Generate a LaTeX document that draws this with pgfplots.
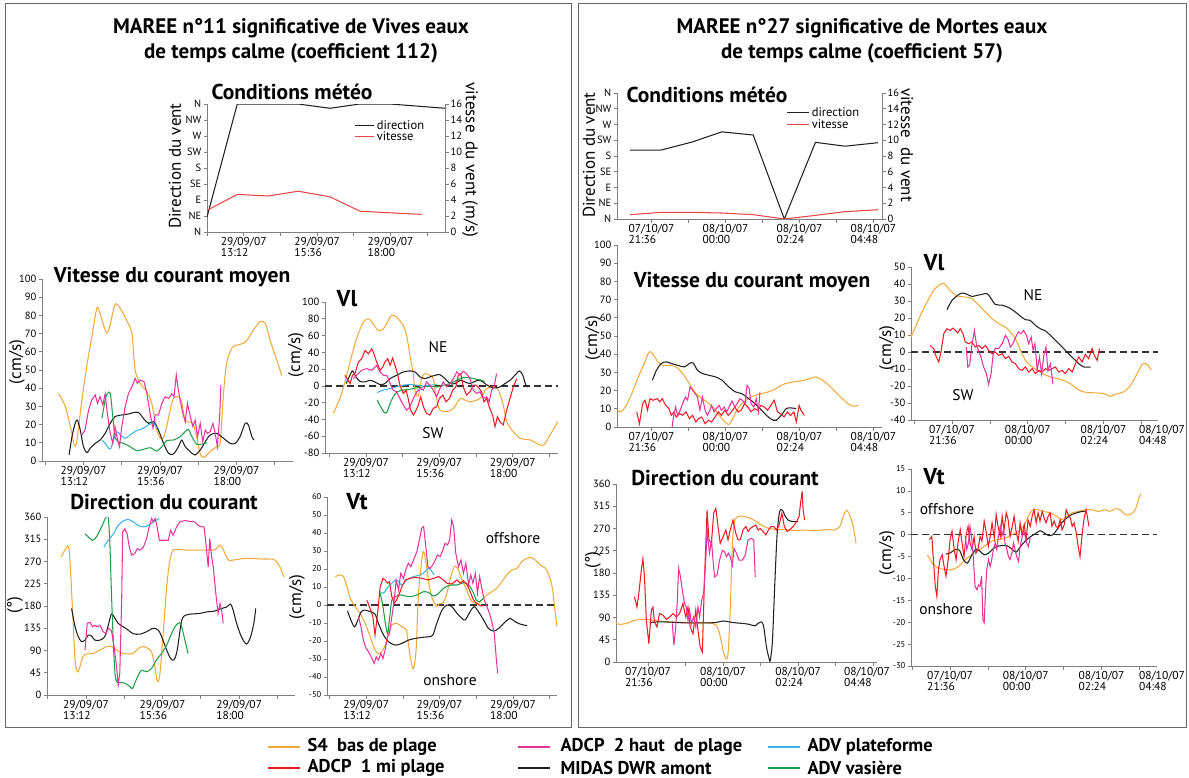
\documentclass[border=0pt]{standalone}
\usepackage{fontspec}
\setmainfont{PT Sans}
\usepackage{pgfplots}
\pgfplotsset{compat=1.18}
\definecolor{cS}{HTML}{F2A93B}
\definecolor{cA}{HTML}{EE1C25}
\definecolor{cB}{HTML}{E6359A}
\definecolor{cM}{HTML}{231F20}
\definecolor{cC}{HTML}{3AB4E6}
\definecolor{cG}{HTML}{1E9E48}
\definecolor{cW}{HTML}{E84545}
\pgfplotsset{
  base/.style={scale only axis, anchor=south west,
    axis x line*=bottom, axis y line*=left,
    axis line style={black!50, line width=0.7pt},
    tick style={black!50, line width=0.7pt},
    tick align=outside, major tick length=3.5pt,
    /pgf/number format/assume math mode=true,
    every axis plot/.append style={line width=1.05pt, no marks},
    yticklabel style={font=\fontsize{10.5}{11}\selectfont, inner sep=2pt},
    xticklabel style={font=\fontsize{11.5}{11}\selectfont, align=left, inner sep=2pt},
  },
  lft/.style={base, xtick={12,13.2,14.4,15.6,16.8,18,19.2},
    xticklabels={,{29/09/07\\13:12},,{29/09/07\\15:36},,{29/09/07\\18:00},}},
  rgt/.style={base, xtick={20.4,21.6,22.8,24,25.2,26.4,27.6,28.8},
    xticklabels={,{07/10/07\\21:36},,{08/10/07\\00:00},,{08/10/07\\02:24},,{08/10/07\\04:48}}},
  small ticks/.style={yticklabel style={font=\fontsize{8.5}{9}\selectfont}},
  zero/.style={dash pattern=on 7pt off 4pt, line width=1.4pt, black!80},
}
\tikzset{
  ttl/.style={font=\bfseries\fontsize{21}{21}\selectfont},
  sub/.style={font=\bfseries\fontsize{21.5}{21.5}\selectfont},
  vv/.style={font=\bfseries\fontsize{23}{23}\selectfont},
  ylab/.style={font=\fontsize{17}{17}\selectfont, rotate=90},
  ann/.style={font=\fontsize{15.5}{15.5}\selectfont},
  leg/.style={font=\bfseries\fontsize{18.5}{18.5}\selectfont, anchor=west},
  xl/.style={font=\fontsize{11.5}{11}\selectfont, align=left, anchor=north, inner sep=2pt},
}
\begin{document}
\begin{tikzpicture}
\useasboundingbox (0pt,0pt) rectangle (1189pt,-778pt);
\draw[black!60, line width=0.8pt] (5pt,-3pt) rectangle (571pt,-727pt);
\draw[black!60, line width=0.8pt] (578pt,-3pt) rectangle (1186pt,-727pt);

% ---------------- titles ----------------
\node[ttl] at (291pt,-28pt) {MAREE n°11 significative de Vives eaux};
\node[ttl] at (291pt,-53pt) {de temps calme (coefficient 112)};
\node[ttl] at (862pt,-28pt) {MAREE n°27 significative de Mortes eaux};
\node[ttl] at (862pt,-53pt) {de temps calme (coefficient 57)};

% =============== LEFT: weather ===============
\begin{axis}[lft, at={(207pt,-232pt)}, width=238pt, height=128pt,
  xmin=12, xmax=19.78, ymin=0, ymax=360, ytick={0,45,...,360},
  yticklabels={N,NE,E,SE,S,SW,W,NW,N}]
\addplot[cM] coordinates {(12.0,42) (12.99,360) (14.0,360) (14.98,360) (16.02,348) (17.0,360) (17.98,360) (19.78,348)};
\end{axis}
\begin{axis}[base, at={(207pt,-232pt)}, width=238pt, height=128pt,
  axis y line*=right, axis x line=none, xmin=12, xmax=19.78, ymin=0, ymax=16, ytick={0,2,...,16},
  legend style={at={(rel axis cs:0.62,0.89)}, anchor=north west, draw=none, fill=none,
    font=\fontsize{12.5}{12.5}\selectfont, row sep=-3pt, inner sep=0pt},
  legend cell align=left,
  legend image code/.code={\draw[#1] (0pt,0pt) -- (19pt,0pt);}]
\addlegendimage{cM, line width=1pt}\addlegendentry{direction}
\addplot[cW] coordinates {(12.0,2.7) (12.99,4.7) (14.0,4.5) (14.98,5.1) (16.02,4.4) (17.0,2.6) (17.98,2.4) (19.02,2.2)};
\addlegendentry{vitesse}
\end{axis}
\node[sub] at (292pt,-92pt) {Conditions météo};
\node[ylab] at (175pt,-166pt) {Direction du vent};
\node[ylab, rotate=180] at (470pt,-160pt) {vitesse\ \ du vent (m/s)};

% =============== LEFT: speed ===============
\begin{axis}[lft, at={(42pt,-461pt)}, width=251pt, height=182pt,
  xmin=11.9, xmax=19.77, ymin=0, ymax=100, ytick={0,10,...,100}]
\addplot[cS, smooth] coordinates {(12.42,37)(12.63,30)(12.84,15)(12.91,8.8)(12.99,10.6)(13.15,33.5)(13.33,55)(13.46,68)(13.62,84)(13.72,81)(13.88,72)(13.95,70.5)(14.04,75)(14.19,86)(14.35,84)(14.56,77)(14.72,70)(14.82,50)(14.98,42.7)(15.19,38)(15.34,31.7)(15.50,17)(15.61,12.5)(15.71,13)(15.81,19)(15.92,28)(16.02,34.4)(16.18,35.3)(16.28,32.6)(16.39,22.5)(16.60,21)(16.70,17)(16.86,4.2)(16.96,2)(17.07,3.3)(17.22,6)(17.38,7.9)(17.49,10.6)(17.59,37)(17.69,53.7)(17.85,62)(18.01,63.7)(18.22,64.7)(18.37,67.4)(18.53,72)(18.74,76.5)(18.90,75.6)(19.05,66.5)(19.26,55.5)(19.42,47)};
\addplot[cM, smooth] coordinates {(12.75,3.3)(12.84,13.4)(12.94,20.7)(13.01,22.5)(13.10,17)(13.20,7.9)(13.31,4.6)(13.41,7)(13.57,9.7)(13.72,11.5)(13.88,15.2)(14.04,20.7)(14.19,24.4)(14.40,25.3)(14.61,25.8)(14.77,26.6)(14.93,26.6)(15.08,23.4)(15.24,20.7)(15.40,21.6)(15.55,17)(15.71,9.7)(15.87,4.2)(16.02,3.8)(16.18,7.9)(16.28,11.5)(16.39,7.9)(16.55,5.1)(16.70,3.3)(16.86,6)(17.02,10.6)(17.17,14.3)(17.38,15.2)(17.59,12.5)(17.80,9.7)(17.96,9.7)(18.11,13.4)(18.27,20.7)(18.37,19.8)(18.48,13.4)(18.55,11.5)};
\addplot[cG, smooth] coordinates {(13.78,23.4)(13.88,33.5)(13.95,37)(14.04,37)(14.12,24.4)(14.19,13.4)(14.30,10.6)(14.46,9.7)(14.66,7.9)(14.87,5.7)(15.08,6.4)(15.29,7.3)(15.50,5.5)(15.66,7.9)(15.81,11.2)(16.02,11.5)(16.23,13.4)(16.39,16.1)(16.49,17.4)(16.60,13.4)(16.75,9.2)(16.91,9.3)(17.07,10)};
\addplot[cC, smooth] coordinates {(13.78,11.5)(13.88,9.7)(13.99,7)(14.06,7)(14.14,11.5)(14.25,16.1)(14.35,14.3)(14.51,12.5)(14.66,14.3)(14.87,16.7)(15.08,18)(15.24,19.8)(15.40,20.7)(15.50,18)};
\addplot[cB] coordinates {(13.15,14.3)(13.25,17)(13.36,28)(13.46,33.5)(13.57,36.3)(13.64,31.7)(13.72,35.3)(13.81,30.8)(13.88,37)(13.95,26)(14.04,15.2)(14.12,9.7)(14.19,18.9)(14.27,11.5)(14.33,7.9)(14.40,18.9)(14.51,29.9)(14.61,37)(14.72,40.8)(14.82,45.4)(14.89,42.7)(14.98,44.5)(15.10,43.6)(15.19,37)(15.29,26)(15.38,18)(15.45,25.3)(15.55,25.3)(15.66,31.7)(15.76,35.3)(15.87,34.4)(15.97,37)(16.04,35.3)(16.11,47.3)(16.16,40.8)(16.23,33.5)(16.32,26)(16.39,21.6)(16.46,31.7)(16.55,24.4)(16.63,18.9)(16.70,22.5)(16.78,13.4)(16.86,20.7)(16.94,10.6)(17.02,17)(17.09,15.2)(17.17,16.1)(17.26,20.7)(17.33,15.2)(17.40,7.9)(17.47,24.4)(17.51,41.8)};
\end{axis}
\node[sub] at (172pt,-277pt) {Vitesse du courant moyen};
\node[ylab] at (17pt,-362pt) {(cm/s)};

% =============== LEFT: Vl ===============
\begin{axis}[lft, at={(325pt,-453pt)}, width=233pt, height=151pt,
  xmin=11.86, xmax=19.48, ymin=-80, ymax=100, ytick={-80,-60,...,100}]
\addplot[zero] coordinates {(11.86,0) (19.48,0)};
\addplot[cS, smooth] coordinates {(12.13,-32.8)(12.35,-15)(12.51,4.7)(12.68,28.5)(12.89,56)(13.11,76)(13.28,80)(13.44,74)(13.60,66)(13.77,68)(13.93,78)(14.04,84)(14.20,82)(14.42,72)(14.53,60)(14.64,36.4)(14.75,12.6)(14.80,-5)(14.91,-12)(15.02,8.7)(15.13,14.6)(15.29,12.6)(15.40,8.7)(15.51,-15)(15.62,-28.9)(15.84,-30.8)(16.06,-26.9)(16.28,-15)(16.44,-17)(16.60,-19)(16.82,-17)(16.98,-13)(17.15,-3)(17.37,-1.2)(17.53,-5)(17.69,-23)(17.80,-42.7)(17.97,-52.6)(18.24,-62.5)(18.57,-64.4)(18.78,-68.4)(18.95,-71)(19.06,-68.4)(19.22,-58.5)(19.38,-48.6)(19.48,-42.7)};
\addplot[cM, smooth] coordinates {(12.55,2.8)(12.65,10.7)(12.76,17.8)(12.87,10.7)(13.00,5.5)(13.17,4.7)(13.33,6.7)(13.49,4.7)(13.66,1.6)(13.82,2.8)(13.99,8.7)(14.20,12.6)(14.42,16.6)(14.64,17.8)(14.80,16.6)(14.97,10.7)(15.13,8.7)(15.29,10.7)(15.46,12.6)(15.62,13.4)(15.78,8.7)(15.95,2.8)(16.11,2.8)(16.28,6.7)(16.44,4.7)(16.60,2.8)(16.77,5.5)(16.93,6.7)(17.09,2.8)(17.26,-1.2)(17.42,-2.4)(17.58,-1.2)(17.75,2.8)(17.91,6.7)(18.07,12.6)(18.22,17.8)(18.33,12.6)(18.43,0.8)(18.51,-1.2)};
\addplot[cG, smooth] coordinates {(13.57,-17)(13.68,-24.9)(13.80,-31.6)(13.88,-31.6)(13.99,-21)(14.09,-13)(14.23,-7)(14.42,-5)(14.64,-4)(14.86,-2.4)(15.08,-1.2)(15.29,-0.4)(15.51,-1.2)(15.73,0.8)(15.95,2.8)(16.17,6.7)(16.38,9.9)(16.60,9.5)(16.82,7.9)(16.98,6.7)(17.09,4.7)};
\addplot[cC, smooth] coordinates {(13.57,-7.9)(13.77,-5)(13.99,-3.2)(14.20,-1.2)(14.42,0.8)(14.64,1.6)(14.86,0.8)(15.08,0)(15.29,0.8)(15.51,1.6)};
\addplot[cA] coordinates {(12.51,12.6)(12.59,7.9)(12.68,2.8)(12.76,12.6)(12.84,14.6)(12.95,28.5)(13.06,32.4)(13.17,42.3)(13.28,38.3)(13.39,44.3)(13.46,38.3)(13.55,28.5)(13.66,18.6)(13.75,22.5)(13.82,28.5)(13.91,32.4)(13.99,24.5)(14.07,33.2)(14.15,24.5)(14.23,14.6)(14.31,0.8)(14.42,-9)(14.51,-5)(14.58,-15)(14.66,-28.9)(14.75,-34.8)(14.84,-28.9)(14.91,-22.9)(14.99,-13)(15.08,-24.9)(15.18,-32.8)(15.29,-34.8)(15.40,-26.9)(15.51,-24.9)(15.60,-15)(15.71,-11)(15.82,-19)(15.93,-15)(16.04,-5)(16.14,-1.2)(16.22,12.6)(16.30,14.6)(16.38,-1.2)(16.49,-11)(16.60,-7)(16.71,0.8)(16.80,0.8)(16.87,-1.2)(16.98,-7)(17.06,-19)(17.15,-15)(17.23,-24.9)(17.34,-34.8)(17.42,-48.6)(17.50,-36.8)(17.58,-42.7)(17.69,-46.6)(17.80,-28.9)(17.91,-15)(18.02,-1.2)(18.13,8.7)};
\addplot[cB] coordinates {(12.79,8.7)(12.89,12.6)(13.06,18.6)(13.22,20.6)(13.39,18.6)(13.55,24.5)(13.66,16.6)(13.77,12.6)(13.88,12.6)(13.99,2.8)(14.09,-5)(14.20,-7)(14.31,-15)(14.42,-22.9)(14.53,-28.9)(14.64,-24.9)(14.75,-15)(14.86,-7)(14.97,-3.2)(15.08,-5)(15.18,4.7)(15.29,0.8)(15.40,-5)(15.51,-13)(15.62,-3)(15.73,4.7)(15.84,-1.2)(15.95,2.8)(16.06,8.7)(16.17,16.6)(16.28,12.6)(16.38,17.4)(16.49,14.6)(16.60,8.7)(16.71,-5)(16.82,-9)(16.93,-7)(17.04,-15)(17.15,-13)(17.23,-19)(17.31,-5)(17.39,-1.2)(17.47,14.6)};
\end{axis}
\node[vv] at (347pt,-299pt) {Vl};
\node[ann] at (438pt,-347pt) {NE};
\node[ann] at (433pt,-433pt) {SW};
\node[ylab] at (296pt,-355pt) {(cm/s)};

% =============== LEFT: direction ===============
\begin{axis}[lft, at={(47pt,-695pt)}, width=248pt, height=178pt,
  xmin=11.98, xmax=19.75, ymin=0, ymax=360, ytick={0,45,...,360}]
\addplot[cS, smooth] coordinates {(12.42,279)(12.54,293)(12.65,301)(12.70,272)(12.78,172)(12.86,71)(12.93,47)(12.99,52)(13.10,77)(13.22,83)(13.43,84)(13.64,91)(13.85,98)(14.00,98)(14.16,91)(14.32,85)(14.53,83)(14.68,84)(14.84,94)(15.00,98)(15.15,94)(15.26,87)(15.36,57)(15.44,27)(15.52,44)(15.62,124)(15.73,219)(15.83,273)(15.93,293)(16.09,294)(16.35,293)(16.67,293)(16.98,293)(17.24,294)(17.40,303)(17.50,294)(17.66,273)(17.81,273)(18.13,276)(18.44,276)(18.75,275)(18.96,275)(19.12,273)(19.28,259)(19.40,239)};
\addplot[cM, smooth] coordinates {(12.75,175)(12.86,138)(12.96,118)(13.06,108)(13.17,111)(13.27,121)(13.38,119)(13.48,111)(13.64,111)(13.79,118)(13.90,141)(14.00,164)(14.11,155)(14.21,145)(14.37,138)(14.53,131)(14.68,124)(14.89,123)(15.10,128)(15.31,135)(15.47,131)(15.57,118)(15.73,91)(15.85,74)(15.96,71)(16.06,91)(16.20,151)(16.35,162)(16.56,164)(16.77,165)(16.98,168)(17.24,170)(17.45,175)(17.61,178)(17.73,184)(17.81,172)(17.92,145)(18.07,118)(18.23,103)(18.36,118)(18.46,145)(18.52,175)};
\addplot[cG, smooth] coordinates {(13.17,326)(13.27,320)(13.41,313)(13.53,320)(13.69,340)(13.83,360)(13.90,357)(13.95,306)(14.00,205)(14.06,104)(14.11,44)(14.16,27)(14.26,25)(14.42,24)(14.58,17)(14.66,13)(14.73,24)(14.84,40)(14.94,50)(15.10,47)(15.26,54)(15.41,71)(15.57,84)(15.73,101)(15.88,124)(16.02,141)(16.14,146)(16.20,138)(16.30,111)(16.40,84)};
\addplot[cC, smooth] coordinates {(13.76,299)(13.90,313)(14.06,326)(14.21,343)(14.37,352)(14.53,355)(14.68,350)(14.84,343)(15.00,340)(15.15,343)(15.31,350)(15.50,357)};
\addplot[cB] coordinates {(13.17,91)(13.24,145)(13.33,147)(13.41,138)(13.48,141)(13.55,138)(13.64,141)(13.74,128)(13.83,124)(13.90,135)(14.00,130)(14.08,98)(14.16,57)(14.21,20)(14.26,44)(14.32,192)(14.35,330)(14.42,336)(14.49,326)(14.56,299)(14.63,283)(14.73,286)(14.81,296)(14.89,293)(15.00,299)(15.10,316)(15.18,340)(15.26,357)(15.31,350)(15.37,357)(15.43,340)(15.50,313)(15.62,313)(15.78,313)(15.85,333)(15.93,323)(16.04,340)(16.14,350)(16.30,353)(16.46,351)(16.61,350)(16.72,343)(16.82,340)(16.90,340)(16.96,306)(17.03,259)(17.08,316)(17.14,279)(17.19,259)(17.27,205)(17.34,165)(17.40,185)(17.45,172)(17.50,145)};
\end{axis}
\node[sub] at (164pt,-502pt) {Direction du courant};
\node[ylab] at (15pt,-605pt) {(°)};

% =============== LEFT: Vt ===============
\begin{axis}[lft, small ticks, at={(327pt,-695pt)}, width=230pt, height=198pt,
  xmin=11.92, xmax=19.44, ymin=-50, ymax=60, ytick={-50,-40,...,60}]
\addplot[zero] coordinates {(11.92,0) (19.44,0)};
\addplot[cS, smooth] coordinates {(12.19,15.8)(12.35,16.7)(12.46,15.8)(12.57,10.2)(12.68,3.7)(12.84,-0.9)(13.00,-4.6)(13.17,-10.2)(13.33,-17.6)(13.49,-25)(13.60,-26.9)(13.71,-26)(13.82,-22.3)(13.93,-15.8)(14.04,-11.1)(14.20,-10.2)(14.37,-12.1)(14.51,-13.9)(14.58,-21.3)(14.66,-30.6)(14.75,-35.3)(14.84,-23.2)(14.91,6.5)(15.02,25)(15.08,29.7)(15.16,23.2)(15.27,10.2)(15.38,2.8)(15.51,-0.9)(15.60,0.9)(15.71,0.9)(15.84,6.5)(16.00,17.6)(16.11,21.7)(16.22,19.5)(16.33,13.9)(16.44,10.2)(16.55,5.6)(16.66,1.9)(16.77,0.9)(16.87,0.6)(16.98,2.8)(17.15,5.6)(17.31,7.4)(17.47,9.3)(17.64,13)(17.80,16.7)(17.97,19.5)(18.13,20.4)(18.29,24.1)(18.46,26)(18.57,26.5)(18.73,25)(18.89,22.3)(19.06,20.4)(19.17,16.7)(19.28,10.2)(19.36,-0.9)(19.44,-12.1)};
\addplot[cM, smooth] coordinates {(12.59,-3.2)(12.70,-8.3)(12.82,-12.1)(12.93,-8.3)(13.04,-3.7)(13.17,-2.8)(13.33,-3.7)(13.49,-5)(13.60,-10.2)(13.77,-16.7)(13.93,-20.4)(14.15,-22.3)(14.37,-21.3)(14.58,-19.5)(14.80,-18.6)(15.02,-18)(15.24,-17.6)(15.38,-16.7)(15.51,-10.2)(15.68,-2.8)(15.84,0)(16.00,-0.9)(16.17,-4.6)(16.33,-7.4)(16.44,-8.3)(16.60,-3.7)(16.73,-0.9)(16.87,-3.7)(17.04,-8.3)(17.20,-13)(17.37,-14.5)(17.53,-13)(17.75,-9.3)(17.91,-7.4)(18.07,-9.3)(18.24,-10.6)(18.46,-11.5)};
\addplot[cG, smooth] coordinates {(13.66,6.5)(13.75,-0.9)(13.82,-9.3)(13.90,-15.8)(13.96,-8.3)(14.04,2.8)(14.15,4.6)(14.31,5.6)(14.48,5)(14.64,4.6)(14.86,5.6)(15.08,7.4)(15.24,6.9)(15.40,5)(15.57,6.5)(15.73,9.3)(15.95,11.1)(16.17,11.1)(16.38,12.4)(16.55,11.1)(16.69,7.4)(16.80,2.8)(16.91,1.9)(17.02,3.7)};
\addplot[cC, smooth] coordinates {(13.66,7.4)(13.77,6.5)(13.88,9.3)(14.04,12.1)(14.20,13.9)(14.37,11.1)(14.53,13.9)(14.75,15.8)(14.97,16.7)(15.13,18.6)(15.24,20.4)(15.35,18.6)(15.42,16.7)};
\addplot[cA] coordinates {(13.22,2.8)(13.33,-1.9)(13.42,-6.5)(13.49,-16.7)(13.55,-8.3)(13.60,0)(13.66,10.2)(13.75,14.8)(13.82,13.9)(13.90,12.1)(13.96,13)(14.04,4.6)(14.12,0.9)(14.20,2.8)(14.29,6.5)(14.37,10.2)(14.48,13.9)(14.64,14.8)(14.80,15.4)(15.02,14.8)(15.24,13.9)(15.40,14.8)(15.57,15.8)(15.73,13.9)(15.84,12.1)(16.00,11.7)(16.17,13.9)(16.28,12.1)(16.38,13.5)(16.49,11.7)(16.60,7.4)(16.71,2.8)(16.82,0.9)(16.93,-0.4)(17.04,-0.4)};
\addplot[cB] coordinates {(12.95,-6.5)(13.03,-12.1)(13.11,-19.5)(13.20,-24.1)(13.28,-26)(13.39,-29.7)(13.46,-32.5)(13.53,-28.8)(13.60,-30.6)(13.68,-26.9)(13.75,-29.7)(13.82,-25)(13.90,-17.6)(13.96,-15.8)(14.04,-6.5)(14.12,2.8)(14.18,13.9)(14.26,8.3)(14.33,17.6)(14.42,14.8)(14.51,20.4)(14.58,23.2)(14.66,21.3)(14.75,25)(14.86,29.7)(14.94,36.2)(15.02,42.7)(15.08,43.6)(15.15,32.5)(15.22,21.3)(15.29,20.4)(15.38,22.3)(15.46,25)(15.53,27.8)(15.62,26.9)(15.71,30.6)(15.78,34.3)(15.86,33.4)(15.93,36.2)(16.00,47.3)(16.06,43.6)(16.13,28.8)(16.22,21.3)(16.30,25)(16.38,17.6)(16.46,23.2)(16.55,11.1)(16.62,16.7)(16.69,12.1)(16.77,17.6)(16.84,6.5)(16.91,15.8)(16.98,9.3)(17.06,2.8)(17.15,-0.9)(17.23,-4.6)(17.31,-9.3)(17.39,-15.8)(17.45,-28.8)(17.50,-38)};
\end{axis}
\node[vv] at (357pt,-502pt) {Vt};
\node[ann] at (513pt,-538pt) {offshore};
\node[ann] at (450pt,-680pt) {onshore};
\node[ylab] at (297pt,-597pt) {(cm/s)};

% =============== RIGHT: weather ===============
\begin{axis}[rgt, at={(617pt,-219pt)}, width=265pt, height=126pt,
  xmin=20.48, xmax=29.08, ymin=0, ymax=360, ytick={0,45,...,360},
  yticklabels={N,NE,E,SE,S,SW,W,NW,N}]
\addplot[cM] coordinates {(20.9,197) (21.91,197) (22.92,220) (23.88,249) (24.9,240) (25.91,0) (26.92,219) (27.88,208) (28.95,218)};
\end{axis}
\begin{axis}[base, at={(617pt,-219pt)}, width=265pt, height=126pt,
  axis y line*=right, axis x line=none, xmin=20.48, xmax=29.08, ymin=0, ymax=16, ytick={0,2,...,16},
  legend style={at={(rel axis cs:0.64,0.90)}, anchor=north west, draw=none, fill=none,
    font=\fontsize{12.5}{12.5}\selectfont, row sep=-3pt, inner sep=0pt},
  legend cell align=left,
  legend image code/.code={\draw[#1] (0pt,0pt) -- (22pt,0pt);}]
\addlegendimage{cM, line width=1pt}\addlegendentry{direction}
\addplot[cW] coordinates {(20.9,0.55) (21.91,0.84) (22.92,0.84) (23.88,0.76) (24.9,0.55) (25.91,0) (26.92,0.46) (27.88,0.93) (28.95,1.18)};
\addlegendentry{vitesse}
\end{axis}
\node[sub] at (707pt,-95pt) {Conditions météo};
\node[ylab] at (589pt,-155pt) {Direction du vent};
\node[ylab, rotate=180] at (907pt,-145pt) {vitesse\ \ du vent};

% =============== RIGHT: speed ===============
\begin{axis}[rgt, at={(617pt,-427pt)}, width=265pt, height=182pt,
  xmin=20.48, xmax=29.08, ymin=0, ymax=100, ytick={0,10,...,100}]
\addplot[cS, smooth] coordinates {(20.50,9.2)(20.59,8.3)(20.75,11)(20.96,18.3)(21.17,27.5)(21.39,35.8)(21.49,40.4)(21.58,41.3)(21.67,39.4)(21.81,35.8)(21.97,33.9)(22.19,33.9)(22.40,33)(22.61,29.4)(22.83,23.9)(23.04,18.3)(23.25,15.6)(23.47,12.8)(23.68,9.2)(23.84,5.5)(23.98,2.8)(24.11,1.3)(24.21,3.7)(24.37,9.2)(24.53,12.8)(24.75,15.6)(24.96,17.4)(25.17,18.3)(25.39,19.3)(25.60,20.6)(25.81,22.9)(26.03,24.2)(26.24,24.8)(26.45,25.3)(26.67,26.2)(26.93,27.5)(27.15,25.7)(27.36,22.9)(27.57,19.3)(27.79,15.6)(28.00,12.5)(28.16,11.4)(28.32,11.9)};
\addplot[cM, smooth] coordinates {(21.63,25.7)(21.76,31.2)(21.92,34.9)(22.08,35.8)(22.24,34.9)(22.45,33.9)(22.67,33)(22.83,34.9)(22.95,35.2)(23.09,31.2)(23.25,29.4)(23.47,28.4)(23.68,27.5)(23.89,25.7)(24.11,22)(24.32,19.3)(24.53,18.3)(24.75,15.6)(24.96,12.8)(25.17,9.2)(25.39,5.5)(25.55,3.7)(25.65,3.7)(25.81,6.4)(25.97,10.1)(26.13,10.5)(26.29,10.1)};
\addplot[cA] coordinates {(21.12,8.3)(21.21,1.8)(21.31,12.8)(21.39,14.7)(21.47,9.2)(21.55,15.6)(21.65,14.7)(21.78,15.6)(21.87,13.8)(21.95,15.6)(22.06,11.9)(22.17,10.1)(22.24,6.4)(22.33,8.3)(22.40,5.5)(22.51,7.3)(22.61,6.4)(22.72,8.3)(22.83,4.6)(22.93,6.4)(23.04,2.8)(23.13,4.6)(23.23,5.5)(23.34,1.8)(23.45,3.7)(23.55,2.8)(23.66,5.5)(23.77,8.3)(23.87,6.4)(23.98,9.2)(24.09,6.4)(24.19,8.3)(24.30,11)(24.41,8.3)(24.51,9.2)(24.62,12.8)(24.73,11)(24.83,8.3)(24.94,10.1)(25.05,9.2)(25.15,11.9)(25.26,11)(25.37,9.2)(25.47,11.9)(25.58,14.7)(25.69,8.3)(25.79,7.3)(25.90,5.5)(26.01,8.3)(26.11,6.4)(26.22,8.3)(26.30,2.8)(26.39,11.9)(26.45,9.2)(26.56,6.4)};
\addplot[cB] coordinates {(22.27,0)(22.31,5.5)(22.38,11)(22.45,6.4)(22.53,9.2)(22.61,12.8)(22.70,16.5)(22.77,14.7)(22.85,22)(22.93,20.2)(23.02,18.3)(23.09,16.5)(23.17,9.2)(23.25,16.5)(23.34,9.2)(23.41,6.4)(23.49,9.2)(23.55,11.9)(23.63,8.3)(23.70,10.1)(23.79,11.9)(23.87,9.2)(23.96,11)(24.04,8.3)(24.13,11.4)(24.21,14.3)(24.30,11)(24.38,12.8)(24.47,15.6)(24.55,14.7)(24.64,12.8)(24.70,22.9)(24.77,21.1)(24.83,12.8)(24.92,11)(25.00,15.6)(25.07,8.3)(25.12,19.3)};
\end{axis}
\node[sub] at (752pt,-282pt) {Vitesse du courant moyen};
\node[ylab] at (593pt,-338pt) {(cm/s)};

% =============== RIGHT: Vl ===============
\begin{axis}[rgt, at={(911pt,-420pt)}, width=247pt, height=153pt,
  xmin=20.30, xmax=28.13, ymin=-40, ymax=50, ytick={-40,-30,...,50}]
\addplot[zero] coordinates {(20.30,0) (28.13,0)};
\addplot[cS, smooth] coordinates {(20.30,8.8)(20.44,14.7)(20.60,21.6)(20.81,29.4)(21.02,36.3)(21.23,39.8)(21.36,40.2)(21.49,37.3)(21.65,34.3)(21.81,32.7)(22.02,32.4)(22.23,31.4)(22.45,27.5)(22.66,23.5)(22.87,19.6)(23.08,16.7)(23.29,14.7)(23.45,11.8)(23.61,7.8)(23.77,1)(23.93,-4.9)(24.08,-7.8)(24.30,-10.8)(24.51,-13.1)(24.72,-14.7)(24.93,-15.7)(25.14,-16.7)(25.35,-18.6)(25.56,-21.6)(25.78,-23.5)(25.99,-23.9)(26.20,-24.1)(26.41,-24.5)(26.62,-26.1)(26.83,-24.5)(27.04,-23.5)(27.26,-19.6)(27.47,-12.7)(27.63,-7.3)(27.73,-6.9)(27.84,-8.4)(27.91,-10.8)};
\addplot[cM, smooth] coordinates {(21.44,24.9)(21.60,30.4)(21.78,33.3)(21.92,34.7)(22.08,33.9)(22.23,32.7)(22.39,33.3)(22.55,33.9)(22.71,34.3)(22.84,31.4)(22.97,28)(23.19,27.5)(23.40,26.1)(23.61,23.5)(23.77,21)(23.93,19)(24.08,18.6)(24.24,15.7)(24.40,13.7)(24.56,12.4)(24.72,9.8)(24.88,6.9)(25.04,3.9)(25.19,1)(25.35,-2)(25.51,-4.9)(25.62,-6.9)(25.78,-8.8)(25.99,-8.8)};
\addplot[cA] coordinates {(20.91,3.9)(21.02,2)(21.10,-2.9)(21.18,-5.9)(21.25,0)(21.34,10.8)(21.44,13.7)(21.55,12.7)(21.63,14.1)(21.71,12.7)(21.78,11.2)(21.86,13.7)(21.95,10.8)(22.02,5.9)(22.13,4.9)(22.23,5.9)(22.34,2.9)(22.45,3.9)(22.55,2)(22.66,3.9)(22.76,1)(22.87,-1)(22.97,0)(23.08,-2)(23.19,-1)(23.29,-3.9)(23.40,-2.5)(23.50,-5.9)(23.61,-6.9)(23.71,-9.8)(23.82,-10.8)(23.93,-8.8)(24.03,-11.8)(24.14,-9.8)(24.24,-12.7)(24.35,-10.8)(24.45,-11.8)(24.56,-9.8)(24.67,-10.8)(24.77,-9.8)(24.88,-8.8)(24.98,-11.8)(25.09,-10.8)(25.19,-12.7)(25.30,-9.8)(25.41,-11.8)(25.51,-6.9)(25.62,-2.9)(25.72,-5.9)(25.83,-1.4)(25.93,-3.9)(26.04,2)(26.11,-2)(26.20,-4.9)(26.28,2)};
\addplot[cB] coordinates {(22.05,2.9)(22.10,-8.8)(22.16,-7.8)(22.23,3.9)(22.31,12.7)(22.37,4.9)(22.45,0)(22.52,-2.9)(22.60,-8.8)(22.69,-12.7)(22.76,-19)(22.84,-12.7)(22.90,-2)(22.97,2)(23.08,2)(23.19,4.9)(23.29,9.8)(23.37,7.8)(23.45,2.9)(23.53,4.9)(23.62,8.8)(23.70,11.8)(23.79,10.8)(23.87,12.7)(23.96,9.8)(24.03,4.9)(24.11,8.8)(24.17,1)(24.23,4.9)(24.30,-10.8)(24.37,-2.9)(24.44,-12.7)(24.51,-2)(24.58,2.9)(24.64,-10.8)(24.72,-6.9)(24.80,-19)};
\end{axis}
\node[xl] at (1162pt,-423.5pt) {08/10/07\\04:48};
\node[vv] at (934pt,-263pt) {Vl};
\node[ann] at (1033pt,-295pt) {NE};
\node[ann] at (963pt,-395pt) {SW};
\node[ylab] at (887pt,-348pt) {(cm/s)};

% =============== RIGHT: direction ===============
\begin{axis}[rgt, at={(616pt,-662pt)}, width=261pt, height=178pt,
  xmin=20.58, xmax=28.92, ymin=0, ymax=360, ytick={0,45,...,360},
  xticklabels={,{07/10/07\\21:36},,{08/10/07\\00:00},,{08/10/07\\02:24},,}]
\addplot[cS, smooth] coordinates {(20.57,79)(20.69,76)(20.91,78)(21.12,83)(21.33,86)(21.55,86)(21.76,84)(21.97,83)(22.19,81)(22.40,81)(22.61,80)(22.83,80)(23.04,79)(23.25,79)(23.47,79)(23.68,78)(23.79,74)(23.89,57)(24.00,24)(24.09,7)(24.16,17)(24.23,105)(24.30,240)(24.37,284)(24.48,294)(24.64,295)(24.85,291)(25.07,284)(25.28,275)(25.49,270)(25.71,268)(25.92,268)(26.13,267)(26.35,266)(26.56,267)(26.77,266)(26.99,266)(27.20,267)(27.41,268)(27.57,267)(27.73,274)(27.84,294)(27.95,307)(28.05,297)(28.16,274)(28.25,240)};
\addplot[cM, smooth] coordinates {(21.65,79)(21.87,81)(22.19,81)(22.51,80)(22.83,79)(23.15,79)(23.47,79)(23.79,80)(24.00,83)(24.21,81)(24.43,79)(24.64,78)(24.85,76)(25.01,73)(25.12,78)(25.23,81)(25.30,71)(25.39,30)(25.46,10)(25.51,3)(25.58,44)(25.65,152)(25.73,260)(25.81,304)(25.90,307)(25.97,297)(26.08,287)(26.24,284)(26.40,284)};
\addplot[cA] coordinates {(21.17,132)(21.25,111)(21.31,139)(21.39,186)(21.44,209)(21.49,172)(21.55,84)(21.63,37)(21.71,105)(21.76,111)(21.81,81)(21.89,71)(21.97,98)(22.08,95)(22.19,86)(22.29,91)(22.40,98)(22.51,91)(22.61,98)(22.72,118)(22.81,91)(22.88,111)(22.95,71)(23.04,57)(23.13,105)(23.20,64)(23.27,30)(23.34,20)(23.41,172)(23.49,307)(23.55,247)(23.63,240)(23.70,301)(23.77,311)(23.84,274)(23.91,240)(24.00,253)(24.09,267)(24.16,247)(24.23,267)(24.32,287)(24.41,260)(24.48,247)(24.55,247)(24.64,267)(24.73,274)(24.80,264)(24.87,270)(24.96,274)(25.05,277)(25.12,267)(25.19,270)(25.28,264)(25.37,257)(25.45,267)(25.54,274)(25.62,274)(25.71,267)(25.79,277)(25.88,301)(25.96,274)(26.05,264)(26.13,267)(26.24,274)(26.35,284)(26.43,294)(26.47,318)(26.53,345)(26.56,307)(26.61,287)};
\addplot[cB] coordinates {(22.38,78)(22.43,34)(22.49,71)(22.54,125)(22.58,189)(22.63,176)(22.70,145)(22.77,118)(22.83,111)(22.88,84)(22.93,105)(22.99,78)(23.06,91)(23.13,71)(23.20,111)(23.25,91)(23.32,125)(23.38,139)(23.45,206)(23.49,274)(23.52,247)(23.57,220)(23.63,247)(23.68,206)(23.73,172)(23.81,176)(23.89,206)(23.98,226)(24.05,223)(24.11,213)(24.17,220)(24.23,213)(24.30,196)(24.35,230)(24.43,220)(24.51,206)(24.62,206)(24.71,216)(24.80,247)(24.91,250)(24.98,247)(25.03,172)};
\end{axis}
\node[xl] at (867pt,-665.5pt) {08/10/07\\04:48};
\node[sub] at (725pt,-478pt) {Direction du courant};
\node[ylab] at (593pt,-560pt) {(°)};

% =============== RIGHT: Vt ===============
\begin{axis}[rgt, small ticks, at={(911pt,-666pt)}, width=246pt, height=197pt,
  xmin=20.36, xmax=28.16, ymin=-30, ymax=15, ytick={-30,-25,...,15}]
\addplot[zero] coordinates {(20.36,0) (28.16,0)};
\addplot[cS, smooth] coordinates {(20.88,-4.6)(20.97,-5.7)(21.07,-6.9)(21.23,-7.6)(21.44,-8)(21.65,-8)(21.86,-7.3)(22.08,-5.7)(22.29,-4.6)(22.50,-3.6)(22.71,-2.5)(22.92,-1.5)(23.13,-1.1)(23.34,-0.8)(23.56,0)(23.77,0.8)(23.93,1.9)(24.03,3.4)(24.14,5)(24.24,5.7)(24.40,5.7)(24.56,5.3)(24.77,5)(24.98,4.2)(25.14,3.4)(25.30,4.2)(25.46,5)(25.67,5.3)(25.88,5.7)(26.09,5.7)(26.30,5.3)(26.52,5.7)(26.67,5.3)(26.83,5.9)(26.99,5.7)(27.15,4.6)(27.31,4.6)(27.47,5.7)(27.57,8)(27.65,9.3)};
\addplot[cM, smooth] coordinates {(21.47,-4.4)(21.60,-4.2)(21.76,-3.4)(21.90,-3.6)(22.02,-5.7)(22.15,-6.5)(22.29,-4.6)(22.42,-3.3)(22.55,-3.8)(22.68,-4.6)(22.82,-4.2)(22.95,-3.3)(23.08,-2.7)(23.24,-2.5)(23.40,-2.5)(23.56,-3.3)(23.69,-4)(23.82,-2.8)(23.98,-1.5)(24.14,-0.5)(24.30,0.2)(24.45,0.9)(24.58,0.4)(24.72,-0.2)(24.86,0)(24.98,1.1)(25.14,2.7)(25.30,3.8)(25.46,4.6)(25.62,5)(25.78,5.3)(25.93,5.3)};
\addplot[cA] coordinates {(20.94,-1.1)(21.02,-0.4)(21.07,-5.7)(21.13,-11.8)(21.18,-14.1)(21.23,-8)(21.28,-5.7)(21.35,-4.6)(21.41,-7.3)(21.47,-9.5)(21.54,-5.7)(21.60,-1.1)(21.66,0.8)(21.73,-3.4)(21.79,-5.7)(21.85,-1.9)(21.92,1.1)(21.98,-1.9)(22.04,-5)(22.11,0)(22.17,1.9)(22.23,-1.9)(22.30,-3.4)(22.36,-0.4)(22.42,-4.2)(22.49,-3.1)(22.55,-0.4)(22.61,-1.5)(22.68,3.1)(22.74,0.8)(22.81,-2.7)(22.87,-0.4)(22.93,2.7)(23.00,-0.8)(23.06,4.6)(23.12,1.9)(23.19,-0.4)(23.25,4.2)(23.31,1.1)(23.38,5)(23.44,3.4)(23.50,-0.4)(23.57,1.9)(23.63,4.2)(23.69,0.8)(23.76,-1.5)(23.82,2.7)(23.88,0)(23.95,2.3)(24.01,-1.1)(24.07,3.4)(24.14,1.9)(24.20,4.2)(24.26,5.7)(24.33,2.7)(24.39,5)(24.45,3.1)(24.52,5.3)(24.58,3.8)(24.64,2.7)(24.71,4.2)(24.77,5)(24.83,1.9)(24.90,3.1)(24.96,1.9)(25.02,1.5)(25.09,3.4)(25.15,1.1)(25.22,2.3)(25.28,5.7)(25.34,4.6)(25.41,3.8)(25.47,1.9)(25.53,2.7)(25.60,0.4)(25.66,-2.7)(25.72,-5)(25.79,0.4)(25.85,3.8)(25.91,5.7)(25.96,3.8)(26.00,1.9)};
\addplot[cB] coordinates {(22.08,-0.4)(22.13,-3.4)(22.18,-1.9)(22.23,1.9)(22.29,-1.1)(22.34,-5.7)(22.39,-11.8)(22.45,-12.6)(22.50,-11.5)(22.55,-11.8)(22.60,-9.5)(22.64,-19.5)(22.68,-20.1)(22.72,-13.4)(22.76,-8)(22.82,-5.7)(22.87,-7.3)(22.92,-5.7)(22.97,-3.4)(23.03,-1.9)(23.08,-3.4)(23.13,-0.4)(23.19,1.9)(23.24,-0.4)(23.29,1.1)(23.34,-1.9)(23.40,-3.4)(23.45,-5)(23.50,-5.7)(23.56,-4.2)(23.61,-1.9)(23.66,-3.4)(23.71,-5)(23.77,-6.1)(23.82,-2.7)(23.87,-1.1)(23.93,1.1)(23.98,-0.4)(24.03,-1.9)(24.08,-2.7)(24.14,-0.8)};
\end{axis}
\node[xl] at (1162pt,-669.5pt) {08/10/07\\04:48};
\node[vv] at (934pt,-477pt) {Vt};
\node[ann] at (947pt,-509pt) {offshore};
\node[ann] at (946pt,-609pt) {onshore};
\node[ylab] at (887pt,-553pt) {(cm/s)};

% =============== legend ===============
\draw[cS, line width=2.2pt] (268pt,-747pt) -- (300pt,-747pt);
\node[leg] at (304pt,-747pt) {S4\ \ bas de plage};
\draw[cA, line width=2.2pt] (268pt,-768pt) -- (300pt,-768pt);
\node[leg] at (304pt,-768pt) {ADCP\ \ 1 mi plage};
\draw[cB, line width=2.2pt] (518pt,-747pt) -- (550pt,-747pt);
\node[leg] at (557pt,-747pt) {ADCP\ \ 2 haut\ \ de plage};
\draw[cM, line width=2.2pt] (518pt,-768pt) -- (550pt,-768pt);
\node[leg] at (557pt,-768pt) {MIDAS DWR amont};
\draw[cC, line width=2.2pt] (768pt,-747pt) -- (800pt,-747pt);
\node[leg] at (804pt,-747pt) {ADV plateforme};
\draw[cG, line width=2.2pt] (768pt,-768pt) -- (800pt,-768pt);
\node[leg] at (804pt,-768pt) {ADV vasière};
\end{tikzpicture}
\end{document}
